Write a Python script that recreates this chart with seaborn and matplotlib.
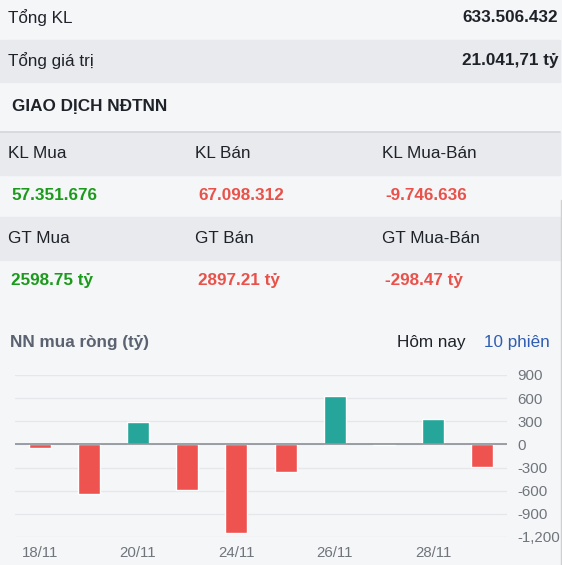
import matplotlib
matplotlib.use("Agg")
import matplotlib.pyplot as plt
import seaborn as sns
import pandas as pd
from matplotlib.patches import Rectangle
from matplotlib.lines import Line2D

# dữ liệu
dates = ["18/11", "19/11", "20/11", "21/11", "24/11", "25/11", "26/11", "27/11", "28/11", "29/11"]
net_values = [-50, -648, 295, -590, -1150, -358, 625, -12, 335, -298.47]
yticks = [900, 600, 300, 0, -300, -600, -900, -1200]

summary_labels = ["Tổng KL", "Tổng giá trị"]
summary_values = ["633.506.432", "21.041,71 tỷ"]
kl_headers = ["KL Mua", "KL Bán", "KL Mua-Bán"]
kl_values = ["57.351.676", "67.098.312", "-9.746.636"]
gt_headers = ["GT Mua", "GT Bán", "GT Mua-Bán"]
gt_values = ["2598.75 tỷ", "2897.21 tỷ", "-298.47 tỷ"]
value_signs = ["up", "down", "down"]

BG = "#f5f6f8"
BAND = "#e8eaee"
DARK = "#1f2329"
TEXT_GREEN = "#1b9a1b"
TEXT_RED = "#e8524a"
BAR_GREEN = "#26a69a"
BAR_RED = "#ef5350"
BLUE = "#2f5db3"

sns.set_theme(style="white")
plt.rcParams["font.family"] = ["Liberation Sans", "DejaVu Sans"]

W, H = 562, 565
fig = plt.figure(figsize=(W / 100, H / 100), dpi=100, facecolor=BG)


def fy(px):
    return 1 - px / H


def fx(px):
    return px / W


def band(y0, y1):
    fig.patches.append(Rectangle((0, fy(y1)), fx(560), (y1 - y0) / H,
                                 transform=fig.transFigure, color=BAND, zorder=0))


band(40, 82)
band(132, 175)
band(217, 260)
fig.add_artist(Line2D([0, fx(560)], [fy(132), fy(132)], transform=fig.transFigure,
                      color="#d3d6db", lw=1.2))
fig.add_artist(Line2D([fx(560.5), fx(560.5)], [fy(200), 0], transform=fig.transFigure,
                      color="#d0d0d0", lw=1))

fs = 12.3
# phần tổng
for i, (lab, val) in enumerate(zip(summary_labels, summary_values)):
    y = [18, 61][i]
    fig.text(fx(8), fy(y), lab, fontsize=fs, color=DARK, va="center")
    fig.text(fx(558), fy(y), val, fontsize=fs, color=DARK, va="center", ha="right",
             fontweight="bold")

fig.text(fx(12), fy(106), "GIAO DỊCH NĐTNN", fontsize=fs, color=DARK, va="center",
         fontweight="bold")

cols = [8, 195, 382]
for j in range(3):
    fig.text(fx(cols[j]), fy(153), kl_headers[j], fontsize=fs, color=DARK, va="center")
    fig.text(fx(cols[j]), fy(238), gt_headers[j], fontsize=fs, color=DARK, va="center")
    c = TEXT_GREEN if value_signs[j] == "up" else TEXT_RED
    fig.text(fx(cols[j] + 3), fy(195), kl_values[j], fontsize=fs, color=c, va="center",
             fontweight="bold")
    fig.text(fx(cols[j] + 3), fy(280), gt_values[j], fontsize=fs, color=c, va="center",
             fontweight="bold")

fig.text(fx(10), fy(342), "NN mua ròng (tỷ)", fontsize=fs, color="#5b6270", va="center",
         fontweight="bold")
fig.text(fx(397), fy(342), "Hôm nay", fontsize=fs, color=DARK, va="center")
fig.text(fx(484), fy(342), "10 phiên", fontsize=fs, color=BLUE, va="center")

# biểu đồ cột
df = pd.DataFrame({"date": dates, "value": net_values})
df["sign"] = ["up" if v >= 0 else "down" for v in df["value"]]

ax = fig.add_axes([fx(15), (H - 537) / H, fx(492), 162 / H])
ax.set_facecolor("none")
sns.barplot(data=df, x="date", y="value", hue="sign", dodge=False, legend=False,
            palette={"up": BAR_GREEN, "down": BAR_RED}, width=0.45, ax=ax,
            saturation=1, zorder=3)
ax.set_xlim(-0.5, len(dates) - 0.5)
ax.set_ylim(-1200, 900)
ax.set_yticks(yticks)
ax.set_yticklabels([f"{v:,}" for v in yticks])
ax.yaxis.tick_right()
for v in yticks:
    ax.axhline(v, color="#e5e7ea", lw=1, zorder=1)
ax.axhline(0, color="#8c9096", lw=1.2, zorder=4)
ax.set_xticks(range(0, len(dates), 2))
ax.set_xticklabels(dates[::2])
ax.tick_params(axis="y", length=0, pad=7.2, labelsize=10.8, labelcolor="#70757c")
ax.tick_params(axis="x", length=0, pad=6.5, labelsize=10.8, labelcolor="#70757c")
ax.set_xlabel("")
ax.set_ylabel("")
for s in ax.spines.values():
    s.set_visible(False)

fig.savefig("out.png", dpi=100, facecolor=BG)
